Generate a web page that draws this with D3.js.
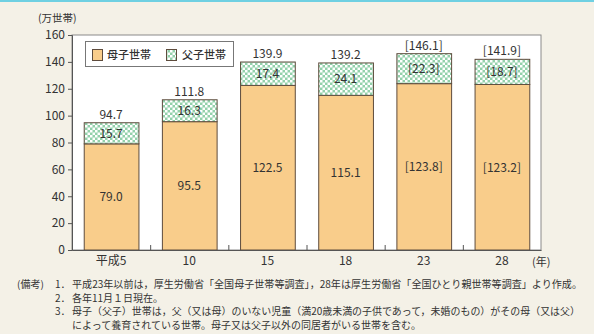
<!DOCTYPE html>
<html lang="ja">
<head>
<meta charset="utf-8">
<script src="https://cdn.jsdelivr.net/npm/d3@7"></script>
<style>
  html, body { margin: 0; padding: 0; background: #f4f1e7; }
  svg { display: block; }
  text { font-family: "Noto Sans CJK JP", "Noto Sans", sans-serif; fill: #333; }
</style>
</head>
<body>
<svg id="chart" width="594" height="334"></svg>
<script>
// 年次（平成）
const years = ["平成5", "10", "15", "18", "23", "28"];
// 母子世帯数（万世帯）
const motherHouseholds = [79.0, 95.5, 122.5, 115.1, 123.8, 123.2];
// 父子世帯数（万世帯）
const fatherHouseholds = [15.7, 16.3, 17.4, 24.1, 22.3, 18.7];
// 合計（万世帯）
const totalHouseholds = [94.7, 111.8, 139.9, 139.2, 146.1, 141.9];
// 括弧付きで表示する年
const bracketYears = ["23", "28"];
// 縦軸目盛
const yTicks = [0, 20, 40, 60, 80, 100, 120, 140, 160];
// 凡例
const seriesNames = ["母子世帯", "父子世帯"];
// 備考
const notes = [
  ["(備考)", "1．", "平成23年以前は，厚生労働省「全国母子世帯等調査」，28年は厚生労働省「全国ひとり親世帯等調査」より作成。"],
  ["", "2．", "各年11月１日現在。"],
  ["", "3．", "母子（父子）世帯は，父（又は母）のいない児童（満20歳未満の子供であって，未婚のもの）がその母（又は父）"],
  ["", "", "によって養育されている世帯。母子又は父子以外の同居者がいる世帯を含む。"]
];

const svg = d3.select("#chart");
const W = 594, H = 334;
const plot = { left: 72, right: 541, top: 35, bottom: 250 };

const orange = "#f9cd8b";
const green = "#93d1ab";
const edge = "#5e4c3d";

// top rule
svg.append("rect").attr("x", 0).attr("y", 0).attr("width", W).attr("height", 2).attr("fill", "#6fd0e2");

// checker pattern for 父子世帯
const defs = svg.append("defs");
const pat = defs.append("pattern")
  .attr("id", "checker").attr("patternUnits", "userSpaceOnUse")
  .attr("width", 5).attr("height", 5);
pat.append("rect").attr("width", 5).attr("height", 5).attr("fill", green);
pat.append("rect").attr("width", 2.5).attr("height", 2.5).attr("fill", "#fff");
pat.append("rect").attr("x", 2.5).attr("y", 2.5).attr("width", 2.5).attr("height", 2.5).attr("fill", "#fff");

// plot area
svg.append("rect")
  .attr("x", plot.left).attr("y", plot.top)
  .attr("width", plot.right - plot.left).attr("height", plot.bottom - plot.top)
  .attr("fill", "#fff").attr("stroke", "#8a8a8a").attr("stroke-width", 1);

const x = d3.scaleBand().domain(years).range([plot.left, plot.right]).paddingInner(0.3).paddingOuter(0.15);
const y = d3.scaleLinear().domain([0, 160]).range([plot.bottom, plot.top]);

const rows = years.map((yr, i) => ({ year: yr, mother: motherHouseholds[i], father: fatherHouseholds[i], total: totalHouseholds[i] }));
const stack = d3.stack().keys(["mother", "father"])(rows);

const fmt = (v, yr) => {
  const s = v.toFixed(1);
  return bracketYears.includes(yr) ? "[" + s + "]" : s;
};

// bars
const layers = svg.append("g").selectAll("g").data(stack).join("g")
  .attr("fill", d => d.key === "mother" ? orange : "url(#checker)");
layers.selectAll("rect").data(d => d).join("rect")
  .attr("x", d => x(d.data.year) + 0.5)
  .attr("y", d => y(d[1]))
  .attr("width", x.bandwidth())
  .attr("height", d => y(d[0]) - y(d[1]))
  .attr("stroke", edge).attr("stroke-width", 1);

// segment labels
layers.selectAll("text").data(d => d).join("text")
  .attr("x", d => x(d.data.year) + x.bandwidth() / 2)
  .attr("y", d => (y(d[0]) + y(d[1])) / 2)
  .attr("dy", "0.36em")
  .attr("text-anchor", "middle")
  .attr("font-size", 12)
  .text((d, i, nodes) => {
    const key = d3.select(nodes[i].parentNode).datum().key;
    return fmt(d.data[key], d.data.year);
  });

// total labels
svg.append("g").selectAll("text").data(rows).join("text")
  .attr("x", d => x(d.year) + x.bandwidth() / 2)
  .attr("y", d => y(d.mother + d.father) - 4)
  .attr("text-anchor", "middle")
  .attr("font-size", 12)
  .text(d => fmt(d.total, d.year));

// y axis
const yAxis = d3.axisLeft(y).tickValues(yTicks).tickSize(4).tickPadding(3);
const gy = svg.append("g").attr("transform", `translate(${plot.left},0)`).call(yAxis);
gy.select(".domain").attr("stroke", "#555");
gy.selectAll(".tick line").attr("stroke", "#555");
gy.selectAll(".tick text").attr("font-size", 12).attr("fill", "#333")
  .attr("font-family", "\"Noto Sans CJK JP\", sans-serif");

// x axis
const xAxis = d3.axisBottom(x).tickSize(0).tickPadding(6);
const gx = svg.append("g").attr("transform", `translate(0,${plot.bottom})`).call(xAxis);
gx.select(".domain").attr("stroke", "#555");
gx.selectAll(".tick text").attr("font-size", 12).attr("fill", "#333")
  .attr("font-family", "\"Noto Sans CJK JP\", sans-serif");

// boundary ticks between categories
const step = x.step();
const bounds = years.slice(1).map(yr => x(yr) - x.paddingInner() * step / 2 + 0.5);
svg.append("g").selectAll("line").data(bounds).join("line")
  .attr("x1", d => d).attr("x2", d => d)
  .attr("y1", plot.bottom).attr("y2", plot.bottom - 5)
  .attr("stroke", "#555");

// unit labels
svg.append("text").attr("x", 38).attr("y", 18).attr("dy", "0.36em").attr("font-size", 10.5).text("(万世帯)");
svg.append("text").attr("x", 532).attr("y", 262).attr("dy", "0.36em").attr("font-size", 11).text("(年)");

// legend
const lg = svg.append("g");
lg.append("rect").attr("x", 85.5).attr("y", 41.5).attr("width", 148).attr("height", 25)
  .attr("fill", "#fff").attr("stroke", "#777");
const legendItems = [
  { name: seriesNames[0], fill: orange, sx: 92, tx: 107 },
  { name: seriesNames[1], fill: "url(#checker)", sx: 166, tx: 182 }
];
legendItems.forEach(it => {
  lg.append("rect").attr("x", it.sx + 0.5).attr("y", 49.5).attr("width", 10).attr("height", 11)
    .attr("fill", it.fill).attr("stroke", edge);
  lg.append("text").attr("x", it.tx).attr("y", 55).attr("dy", "0.36em")
    .attr("font-size", 11).attr("font-weight", 500).text(it.name);
});

// notes
const ng = svg.append("g").attr("font-size", 10);
notes.forEach((n, i) => {
  const yy = 288 + i * 13.5;
  if (n[0]) ng.append("text").attr("x", 17).attr("y", yy).attr("font-size", 10).text(n[0]);
  if (n[1]) ng.append("text").attr("x", 55).attr("y", yy).attr("font-size", 10).text(n[1]);
  const t = ng.append("text").attr("x", 72).attr("y", yy).attr("font-size", 10).text(n[2]);
  if (i === 0) t.attr("textLength", 510).attr("lengthAdjust", "spacingAndGlyphs");
  if (i === 2) t.attr("textLength", 508).attr("lengthAdjust", "spacingAndGlyphs");
});
</script>
</body>
</html>
